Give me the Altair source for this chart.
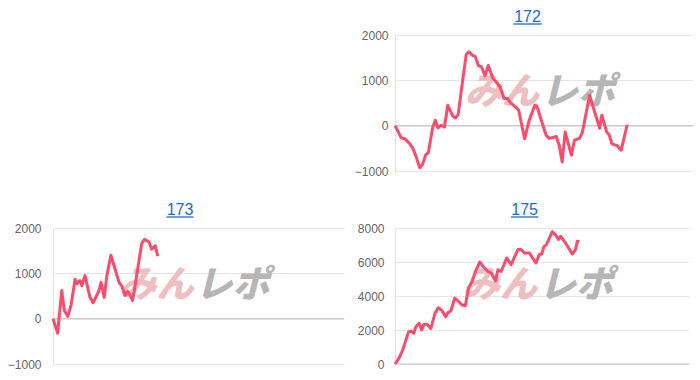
import altair as alt
import pandas as pd

# ---- data (x = position along the session, 0..100; y = balance) ----
g172 = [0, 2.1, 3.3, 4.7, 6.0, 6.9, 8.3, 9.2, 10.3, 11.2, 12.6, 13.5, 14.4, 15.4, 16.6,
        17.7, 19.4, 20.3, 21.2, 22.8, 23.9, 24.8, 26.0, 26.9, 28.0, 29.0, 30.2, 31.3, 32.8,
        34.4, 35.3, 36.6, 37.8, 38.8, 40.5, 41.5, 43.5, 44.9, 46.9, 47.6, 50.7, 51.7, 54.1,
        55.1, 56.1, 57.1, 59.2, 60.2, 61.9, 62.9, 65.3, 67.0, 68.7, 69.4, 71.1, 71.8, 72.8,
        74.5, 75.9, 77.9]
v172 = [0, -270, -290, -380, -500, -650, -930, -860, -640, -600, -50, 120, -50, 10, -30,
        450, 210, 170, 250, 1040, 1570, 1630, 1550, 1530, 1320, 1300, 1100, 1330, 1050,
        930, 850, 600, 600, 500, 410, 340, -290, 90, 450, 430, -210, -280, -240,
        -430, -800, -140, -650, -320, -280, -140, 670, 300, -60, 230, -150, -190, -400,
        -440, -540, 20]

g173 = [0, 0.7, 1.6, 3.0, 3.9, 5.1, 6.2, 7.6, 8.2, 9.2, 9.9, 11.0, 11.7, 12.7, 13.8,
        15.8, 16.5, 17.6, 18.5, 19.9, 21.3, 22.7, 23.8, 24.7, 25.7, 26.5, 27.3, 27.9,
        29.3, 30.5, 31.4, 33.0, 33.9, 35.1, 36.0]
v173 = [0, -140, -320, 620, 180, 50, 300, 870, 770, 840, 730, 950, 750, 470, 350,
        620, 800, 470, 950, 1400, 1100, 800, 700, 510, 600, 520, 400, 600,
        1180, 1660, 1750, 1690, 1530, 1610, 1380]

g175 = [0, 1.4, 2.6, 3.5, 4.6, 5.5, 6.4, 7.1, 8.2, 9.1, 9.8, 10.9, 12.2, 13.6, 14.7,
        15.8, 17.2, 18.1, 19.0, 20.3, 21.4, 22.8, 23.9, 25.0, 26.2, 27.6, 28.8, 30.0,
        31.6, 32.8, 34.2, 35.0, 36.1, 38.0, 39.5, 41.8, 42.9, 44.0, 45.7, 47.9, 49.1,
        49.9, 50.7, 51.5, 53.5, 54.6, 55.6, 56.3, 58.0, 60.3, 61.4, 62.0, 62.7]
v175 = [0, 360, 810, 1300, 1890, 1930, 1800, 2190, 2390, 2000, 2330, 2330, 2090, 2980, 3310,
        3180, 2780, 3040, 3120, 3870, 3710, 3470, 3430, 4460, 4850, 5540, 6000, 5740,
        5440, 5340, 4890, 5540, 5440, 6230, 5840, 6730, 6730, 6530, 6530, 5940, 6440,
        6470, 6920, 7020, 7780, 7600, 7320, 7510, 7120, 6470, 6730, 7220, 7180]

titles = ["172", "173", "175"]
ticks_small = [-1000, 0, 1000, 2000]
ticks_big = [0, 2000, 4000, 6000, 8000]

LINE = "#ff4b6b"
BLUE = "#1a6dd0"
FONT = "Liberation Sans"
JP = "Noto Sans CJK JP"
PH = 136


def panel(title, g, v, width, domain, ticks, extent, pad, ul):
    df = pd.DataFrame({"g": g, "v": v})
    yax = alt.Axis(values=ticks, title=None, grid=True, gridColor="#e6e6e6",
                   domainColor="#e3e3e3", ticks=False, labelPadding=pad,
                   labelColor="#666666", labelFontSize=12, labelFont=FONT,
                   minExtent=extent, maxExtent=extent, format="d")
    ysc = alt.Scale(domain=domain, nice=False)
    one = pd.DataFrame({"z": [0]})
    zero = alt.Chart(one).mark_rule(color="#c4c4c4", strokeWidth=1).encode(
        y=alt.Y("z:Q", scale=ysc, axis=yax))
    wm1 = alt.Chart(one).mark_text(text="みん", font=JP, fontSize=37, fontWeight=900,
                                   fontStyle="italic", color="#efbfbf", align="right",
                                   baseline="middle").encode(
        x=alt.value(width / 2 - 5), y=alt.value(58))
    wm2 = alt.Chart(one).mark_text(text="レポ", font=JP, fontSize=37, fontWeight=900,
                                   fontStyle="italic", color="#b6b6b6", align="left",
                                   baseline="middle").encode(
        x=alt.value(width / 2 - 3), y=alt.value(58))
    ttl = alt.Chart(one).mark_text(text=title, font=FONT, fontSize=16, color=BLUE,
                                   align="center", baseline="alphabetic").encode(
        x=alt.value((ul[0] + ul[1]) / 2), y=alt.value(-13.5))
    under = alt.Chart(one).mark_rule(color=BLUE, strokeWidth=1.3).encode(
        x=alt.value(ul[0]), x2=alt.value(ul[1]), y=alt.value(-11))
    line = alt.Chart(df).mark_line(color=LINE, strokeWidth=3, strokeJoin="round").encode(
        x=alt.X("g:Q", scale=alt.Scale(domain=[0, 100], nice=False), axis=None),
        y=alt.Y("v:Q", scale=ysc, axis=yax))
    return alt.layer(zero, wm1, wm2, under, ttl, line).properties(width=width, height=PH)


c172 = panel(titles[0], g172, v172, 298, [-1000, 2000], ticks_small, 43, 7, (118.3, 146.7))
c173 = panel(titles[1], g173, v173, 291, [-1000, 2000], ticks_small, 53, 12, (113.5, 140.5))
c175 = panel(titles[2], g175, v175, 294, [0, 8000], ticks_big, 43, 11, (116, 143.3))

blank = alt.Chart(pd.DataFrame({"a": [0]})).mark_rule(opacity=0).encode(
    x=alt.value(0), y=alt.value(0)).properties(width=100, height=PH)

chart = alt.concat(blank, c172, c173, c175, columns=2,
                   spacing={"row": 24, "column": 7}).properties(
    padding={"left": 0, "top": 8, "right": 0, "bottom": 0},
    background="white",
).configure_view(strokeWidth=0)

chart.save("out.html", embed_options={"renderer": "svg", "actions": False})
